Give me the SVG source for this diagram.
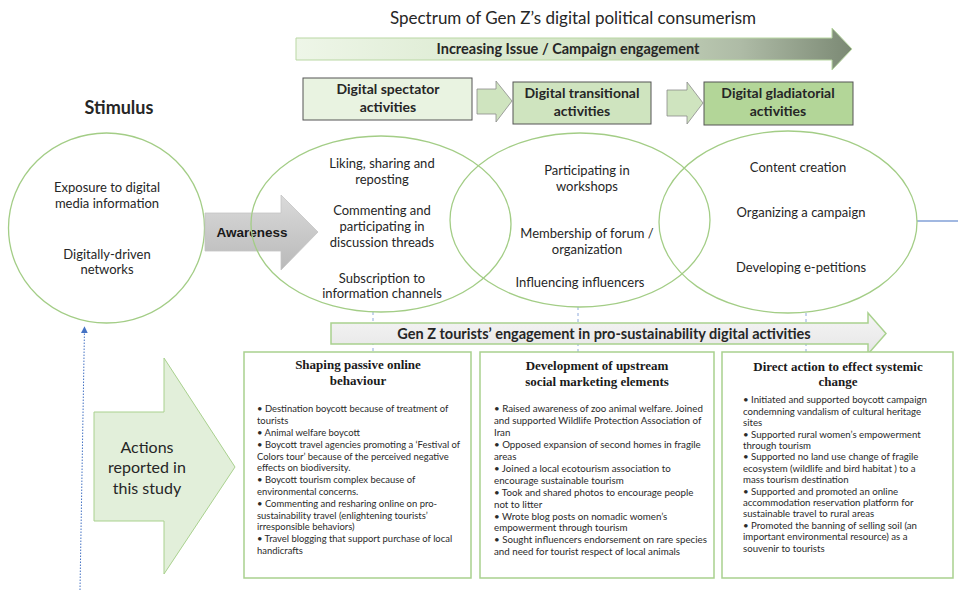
<svg xmlns="http://www.w3.org/2000/svg" width="958" height="590" viewBox="0 0 958 590">
<defs>
<linearGradient id="gTop" x1="0" y1="0" x2="1" y2="0">
<stop offset="0" stop-color="#eef6e8"/><stop offset="0.5" stop-color="#d4e5c7"/><stop offset="0.8" stop-color="#aebba6"/><stop offset="1" stop-color="#7b8974"/>
</linearGradient>
<linearGradient id="gAw" x1="0" y1="0" x2="0" y2="1">
<stop offset="0" stop-color="#dadada"/><stop offset="1" stop-color="#b9b9b9"/>
</linearGradient>
<linearGradient id="gGz" x1="0" y1="0" x2="0" y2="1">
<stop offset="0" stop-color="#f5f5f5"/><stop offset="1" stop-color="#e6e6e6"/>
</linearGradient>
<marker id="blueHead" viewBox="0 0 10 10" refX="9" refY="5" markerWidth="7" markerHeight="7" orient="auto" markerUnits="userSpaceOnUse">
<path d="M0,0 L10,5 L0,10 z" fill="#4472c4"/>
</marker>
<style>
.sans{font-family:Lato,"Liberation Sans",sans-serif;fill:#262626}
.ttl{font-size:17px}
.hb{font-size:14px;font-weight:bold}
.ell{font-size:13px;text-anchor:middle}
.bx{font-family:"Liberation Serif",serif;font-weight:bold;font-size:13px;text-anchor:middle;fill:#1a1a1a}
.bl{font-family:Lato,"Liberation Sans",sans-serif;font-size:10px;fill:#2a2a2a}
.gs{fill:none;stroke:#a3cd86;stroke-width:1.3}
.box{fill:#ffffff;stroke:#a9d18e;stroke-width:1.5}
.top{stroke:#555555;stroke-width:1}
.dash{stroke:#8faadc;stroke-width:1;stroke-dasharray:3 3;fill:none}
</style>
</defs>

<text class="sans ttl" x="573" y="24" text-anchor="middle">Spectrum of Gen Z’s digital political consumerism</text>

<g id="connectors">
<line class="dash" x1="373" y1="312" x2="373" y2="352"/>
<line class="dash" x1="578" y1="307" x2="578" y2="352"/>
<line class="dash" x1="806" y1="313" x2="806" y2="352"/>
<line x1="917" y1="221" x2="958" y2="221" stroke="#4472c4" stroke-width="1.2"/>
<line x1="80" y1="590" x2="84.5" y2="327" stroke="#4472c4" stroke-width="1" stroke-dasharray="1.5 1.5" marker-end="url(#blueHead)"/>
<polygon points="477,89 496,89 496,81 512,101 496,122 496,114 477,114" fill="#cfe4bf" stroke="#8c8c8c" stroke-width="0.8"/>
<polygon points="667,90 687,90 687,82 703,103 687,124 687,116 667,116" fill="#cfe4bf" stroke="#8c8c8c" stroke-width="0.8"/>
</g>

<g id="spectrum-arrow">
<polygon points="296,38 832,38 832,28 852,49 832,70 832,60 296,60" fill="url(#gTop)" stroke="#b9d7a3" stroke-width="1"/>
<text class="sans" x="568" y="54" font-size="14.5" font-weight="bold" text-anchor="middle">Increasing Issue / Campaign engagement</text>
</g>

<g id="spectator-box">
<rect class="top" x="303" y="78" width="169" height="42" fill="#e9f3e1"/>
<text class="sans hb" x="388" y="94" text-anchor="middle">Digital spectator</text>
<text class="sans hb" x="388" y="112" text-anchor="middle">activities</text>
</g>
<g id="transitional-box">
<rect class="top" x="513" y="82" width="138" height="42" fill="#cfe4bf"/>
<text class="sans hb" x="582" y="98" text-anchor="middle">Digital transitional</text>
<text class="sans hb" x="582" y="116" text-anchor="middle">activities</text>
</g>
<g id="gladiatorial-box">
<rect class="top" x="704" y="82" width="149" height="43" fill="#b3d698"/>
<text class="sans hb" x="778" y="98" text-anchor="middle">Digital gladiatorial</text>
<text class="sans hb" x="778" y="116" text-anchor="middle">activities</text>
</g>

<g id="stimulus">
<text class="sans" x="119" y="114" font-size="18" font-weight="bold" text-anchor="middle">Stimulus</text>
<ellipse class="gs" cx="106.5" cy="228" rx="98" ry="95"/>
<text class="sans ell" x="107" y="191.5">Exposure to digital</text>
<text class="sans ell" x="107" y="207.5">media information</text>
<text class="sans ell" x="107" y="258.5">Digitally-driven</text>
<text class="sans ell" x="107" y="273.5">networks</text>
</g>

<g id="awareness">
<polygon points="205,213 281,213 281,195 318,232 281,270 281,251 205,251" fill="url(#gAw)" stroke="#c4c4c4" stroke-width="0.8"/>
<text x="252" y="237" font-family="'Liberation Sans',Arial,sans-serif" font-size="13.5" font-weight="bold" fill="#1a1a1a" text-anchor="middle">Awareness</text>
</g>

<g id="spectator-ellipse">
<ellipse class="gs" cx="381" cy="224" rx="130" ry="88"/>
<text class="sans ell" x="382" y="167.5">Liking, sharing and</text>
<text class="sans ell" x="382" y="183.5">reposting</text>
<text class="sans ell" x="382" y="214.5">Commenting and</text>
<text class="sans ell" x="382" y="230.5">participating in</text>
<text class="sans ell" x="382" y="246.5">discussion threads</text>
<text class="sans ell" x="382" y="282.5">Subscription to</text>
<text class="sans ell" x="382" y="297.5">information channels</text>
</g>

<g id="transitional-ellipse">
<ellipse class="gs" cx="580" cy="220" rx="130" ry="87"/>
<text class="sans ell" x="587" y="174.5">Participating in</text>
<text class="sans ell" x="587" y="190.5">workshops</text>
<text class="sans ell" x="587" y="237.5">Membership of forum /</text>
<text class="sans ell" x="587" y="253.5">organization</text>
<text class="sans ell" x="580" y="286.5">Influencing influencers</text>
</g>

<g id="gladiatorial-ellipse">
<ellipse class="gs" cx="788" cy="222" rx="129" ry="91"/>
<text class="sans ell" x="798" y="171.5">Content creation</text>
<text class="sans ell" x="801" y="216.5">Organizing a campaign</text>
<text class="sans ell" x="801" y="271.5">Developing e-petitions</text>
</g>

<g id="genz-arrow">
<polygon points="331,323 868,323 868,313 886,333.5 868,354 868,344 331,344" fill="url(#gGz)" stroke="#a9d18e" stroke-width="1.5"/>
<text class="sans" x="604" y="338.5" font-size="14.5" font-weight="bold" text-anchor="middle" fill="#1a1a1a">Gen Z tourists’ engagement in pro-sustainability digital activities</text>
</g>

<g id="actions-arrow">
<polygon points="94,412 164,412 164,358 235,467 164,574 164,521 94,521" fill="#e2efda" stroke="#a9d18e" stroke-width="1"/>
<text class="sans" x="147" y="453" font-size="16" text-anchor="middle">Actions</text>
<text class="sans" x="147" y="473" font-size="16" text-anchor="middle">reported in</text>
<text class="sans" x="147" y="494" font-size="16" text-anchor="middle">this study</text>
</g>

<g id="box-passive">
<rect class="box" x="244" y="352" width="227" height="226"/>
<text class="bx" x="358" y="369">Shaping passive online</text>
<text class="bx" x="358" y="385">behaviour</text>
<g transform="translate(257 0) scale(0.945 1)">
<text class="bl" x="0" y="412.5">• Destination boycott because of treatment of</text>
<text class="bl" x="0" y="424.3">tourists</text>
<text class="bl" x="0" y="436.1">• Animal welfare boycott</text>
<text class="bl" x="0" y="447.9">• Boycott travel agencies promoting a ‘Festival of</text>
<text class="bl" x="0" y="459.7">Colors tour’ because of the perceived negative</text>
<text class="bl" x="0" y="471.5">effects on biodiversity.</text>
<text class="bl" x="0" y="483.3">• Boycott tourism complex because of</text>
<text class="bl" x="0" y="495.1">environmental concerns.</text>
<text class="bl" x="0" y="506.9">• Commenting and resharing online on pro-</text>
<text class="bl" x="0" y="518.7">sustainability travel (enlightening tourists’</text>
<text class="bl" x="0" y="530.5">irresponsible behaviors)</text>
<text class="bl" x="0" y="542.3">• Travel blogging that support purchase of local</text>
<text class="bl" x="0" y="554.1">handicrafts</text>
</g>
</g>

<g id="box-upstream">
<rect class="box" x="480" y="352" width="234" height="226"/>
<text class="bx" x="597" y="370">Development of upstream</text>
<text class="bx" x="597" y="386">social marketing elements</text>
<g transform="translate(494 0) scale(0.975 1)">
<text class="bl" x="0" y="412.5">• Raised awareness of zoo animal welfare. Joined</text>
<text class="bl" x="0" y="424.4">and supported Wildlife Protection Association of</text>
<text class="bl" x="0" y="436.3">Iran</text>
<text class="bl" x="0" y="448.2">• Opposed expansion of second homes in fragile</text>
<text class="bl" x="0" y="460.1">areas</text>
<text class="bl" x="0" y="472">• Joined a local ecotourism association to</text>
<text class="bl" x="0" y="483.9">encourage sustainable tourism</text>
<text class="bl" x="0" y="495.8">• Took and shared photos to encourage people</text>
<text class="bl" x="0" y="507.7">not to litter</text>
<text class="bl" x="0" y="519.6">• Wrote blog posts on nomadic women’s</text>
<text class="bl" x="0" y="531.5">empowerment through tourism</text>
<text class="bl" x="0" y="543.4">• Sought influencers endorsement on rare species</text>
<text class="bl" x="0" y="555.3">and need for tourist respect of local animals</text>
</g>
</g>

<g id="box-direct">
<rect class="box" x="722" y="352" width="231" height="226"/>
<text class="bx" x="838" y="371">Direct action to effect systemic</text>
<text class="bx" x="838" y="386">change</text>
<g transform="translate(743 0) scale(0.965 1)">
<text class="bl" x="0" y="403.5">• Initiated and supported boycott campaign</text>
<text class="bl" x="0" y="414.9">condemning vandalism of cultural heritage</text>
<text class="bl" x="0" y="426.3">sites</text>
<text class="bl" x="0" y="437.7">• Supported rural women’s empowerment</text>
<text class="bl" x="0" y="449.1">through tourism</text>
<text class="bl" x="0" y="460.5">• Supported no land use change of fragile</text>
<text class="bl" x="0" y="471.9">ecosystem (wildlife and bird habitat ) to a</text>
<text class="bl" x="0" y="483.3">mass tourism destination</text>
<text class="bl" x="0" y="494.7">• Supported and promoted an online</text>
<text class="bl" x="0" y="506.1">accommodation reservation platform for</text>
<text class="bl" x="0" y="517.5">sustainable travel to rural areas</text>
<text class="bl" x="0" y="528.9">• Promoted the banning of selling soil (an</text>
<text class="bl" x="0" y="540.3">important environmental resource) as a</text>
<text class="bl" x="0" y="551.7">souvenir to tourists</text>
</g>
</g>
</svg>
